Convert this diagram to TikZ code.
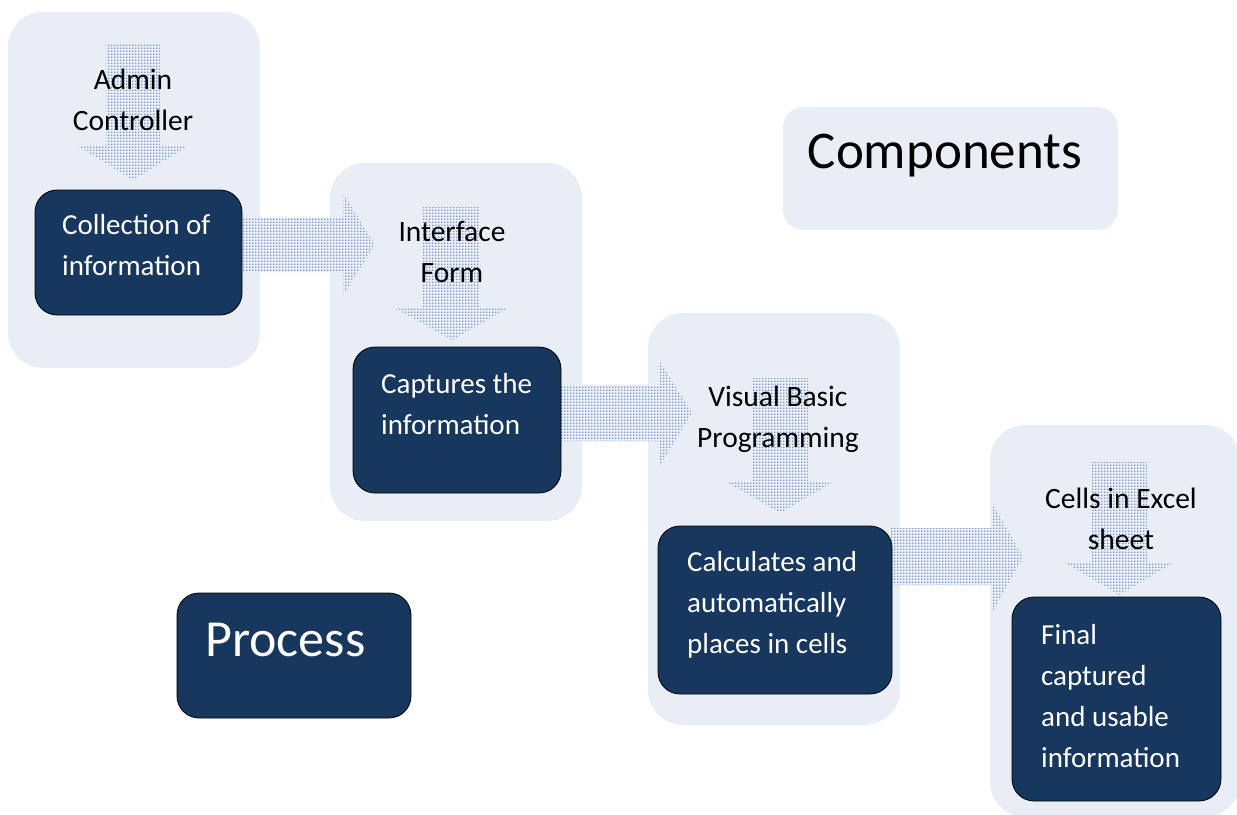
\documentclass[tikz,border=0pt]{standalone}
\usepackage{fontspec}
\setmainfont{Carlito}
\usetikzlibrary{patterns}
\definecolor{navy}{HTML}{17375E}
\definecolor{pale}{HTML}{E9EEF6}
\definecolor{dotblue}{HTML}{7C98C6}
\pgfdeclarepatternformonly{bluedots}{\pgfpointorigin}{\pgfpoint{3pt}{3pt}}%
    {\pgfpoint{3pt}{3pt}}%
    {\pgfpathrectangle{\pgfpointorigin}{\pgfpoint{1.8pt}{1.8pt}}\pgfusepath{fill}}
\tikzset{ panel/.style = { fill = pale
                         , rounded corners = 35pt
                         , inner sep = 0pt
                         },
          dbox/.style = { fill = navy
                        , draw = black
                        , thick
                        , rounded corners = 22pt
                        , inner sep = 0pt
                        },
          barrow/.style = { preaction = {fill = pale}
                          , pattern = bluedots
                          , pattern color = dotblue
                          },
          wtxt/.style = { text = white
                        , align = left
                        , inner sep = 0pt
                        , anchor = west
                        , font = \fontsize{29}{41}\selectfont
                        },
          btxt/.style = { text = black
                        , align = center
                        , inner sep = 0pt
                        , font = \fontsize{29.5}{41}\selectfont
                        }
        }
\begin{document}
\begin{tikzpicture}[x=1pt, y=-1pt]
    \useasboundingbox (0,0) rectangle (1237,814);
    % light panels
    \node[panel, minimum width=252pt, minimum height=356pt] (pa) at (134,190) {};
    \node[panel, minimum width=252pt, minimum height=358pt] (pb) at (456,342) {};
    \node[panel, minimum width=252pt, minimum height=412pt] (pc) at (774,519) {};
    \node[panel, minimum width=250pt, minimum height=392pt] (pd) at (1115,621) {};
    \node[panel, rounded corners=20pt, minimum width=335pt, minimum height=123pt]
        (comp) at (950.5,168.5) {};
    % down arrows
    \path[barrow] (106,44) -- (160,44) -- (160,146) -- (188,146) -- (133,180)
        -- (78,146) -- (106,146) -- cycle;
    \path[barrow] (423,207) -- (480,207) -- (480,308) -- (508,308) -- (452,340)
        -- (395,308) -- (423,308) -- cycle;
    \path[barrow] (752,378) -- (808,378) -- (808,482) -- (833,482) -- (780,513)
        -- (727,482) -- (752,482) -- cycle;
    \path[barrow] (1092,462) -- (1147,462) -- (1147,563) -- (1173,563) -- (1119,595)
        -- (1065,563) -- (1092,563) -- cycle;
    % right arrows
    \path[barrow] (240,218) -- (343,218) -- (343,193) -- (375,245) -- (343,295)
        -- (343,272) -- (240,272) -- cycle;
    \path[barrow] (559,385) -- (659,385) -- (659,360) -- (692,413) -- (659,467)
        -- (659,441) -- (559,441) -- cycle;
    \path[barrow] (890,528) -- (992,528) -- (992,503) -- (1023,557) -- (992,613)
        -- (992,585) -- (890,585) -- cycle;
    % dark boxes
    \node[dbox, minimum width=207pt, minimum height=125pt] (collect) at (138.5,252.5) {};
    \node[dbox, minimum width=208pt, minimum height=146pt] (capture) at (457,420) {};
    \node[dbox, minimum width=234pt, minimum height=168pt] (calc) at (775,610) {};
    \node[dbox, minimum width=209pt, minimum height=204pt] (final) at (1116.5,699) {};
    \node[dbox, minimum width=234pt, minimum height=125pt] (proc) at (294,655.5) {};
    % texts
    \node[wtxt] (tcollect) at (62,245.5) {Collection of\\information};
    \node[wtxt] (tcapture) at (381,404) {Captures the\\information};
    \node[wtxt] (tcalc) at (687,605) {Calculates and\\automatically\\places in cells};
    \node[wtxt] (tfinal) at (1041,696) {Final\\captured\\and usable\\information};
    \node[wtxt, font=\fontsize{52}{60}\selectfont] (tproc) at (205,640) {Process};
    \node[btxt] (tadmin) at (133,99.5) {Admin\\Controller};
    \node[btxt] (tform) at (452,252) {Interface\\Form};
    \node[btxt] (tvb) at (778,419) {Visual Basic\\Programming};
    \node[btxt] (tcells) at (1121,518.5) {Cells in Excel\\sheet};
    \node[btxt, font=\fontsize{53}{60}\selectfont] (tcomp) at (945,156) {Components};
\end{tikzpicture}
\end{document}
